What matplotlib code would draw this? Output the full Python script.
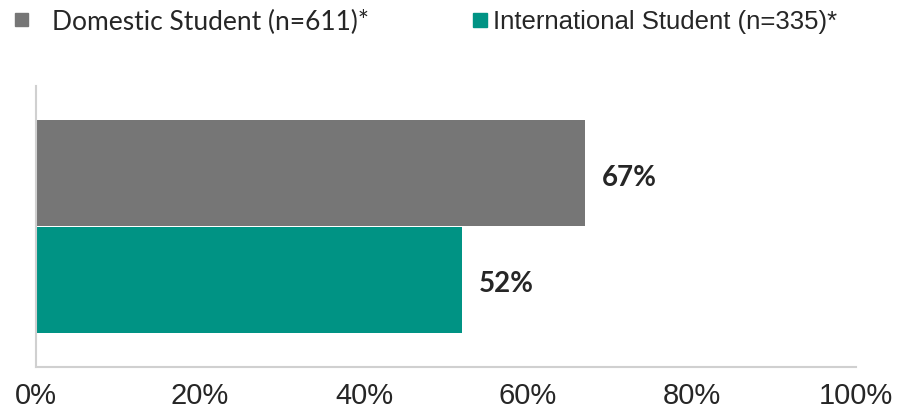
import matplotlib.pyplot as plt
from matplotlib.patches import Rectangle

# survey share by student group
groups = ["Domestic Student (n=611)*", "International Student (n=335)*"]
values = [67, 52]
colors = ["#767676", "#009384"]
ticks = [0, 20, 40, 60, 80, 100]

fig = plt.figure(figsize=(9.08, 4.15), dpi=100)
ax = fig.add_axes([36 / 908, 1 - 367 / 415, 820 / 908, 281 / 415])

ypos = [1, 0]
ax.barh(ypos, values, height=1.0, color=colors)
for y, v in zip(ypos, values):
    ax.text(v + 2, y - 0.04, f"{v}%", va="center", ha="left",
            fontsize=20, fontweight="bold", family="Lato", color="#262626")

ax.set_xlim(0, 100)
ax.set_ylim(-0.825, 1.825)
ax.set_yticks([])
ax.set_xticks(ticks)
ax.set_xticklabels([f"{t}%" for t in ticks], family="Liberation Sans",
                   fontsize=21, color="#262626")
ax.tick_params(axis="x", length=0, pad=21)
for lbl in ax.get_xticklabels():
    lbl.set_verticalalignment("center")
for s in ["top", "right"]:
    ax.spines[s].set_visible(False)
for s in ["left", "bottom"]:
    ax.spines[s].set_color("#d0d0d0")
    ax.spines[s].set_linewidth(1.5)

# legend drawn by hand along the top
fig.patches.append(Rectangle((15 / 908, 1 - 26 / 415), 13 / 908, 13 / 415,
                             transform=fig.transFigure, color=colors[0]))
fig.text(52 / 908, 1 - 22 / 415, groups[0], va="center", ha="left",
         fontsize=19, family="Lato", color="#262626")
fig.patches.append(Rectangle((473 / 908, 1 - 27 / 415), 14 / 908, 14 / 415,
                             transform=fig.transFigure, color=colors[1]))
fig.text(493 / 908, 1 - 22 / 415, groups[1], va="center", ha="left",
         fontsize=18.5, family="Liberation Sans", color="#262626")

fig.savefig("out.png", dpi=100)
